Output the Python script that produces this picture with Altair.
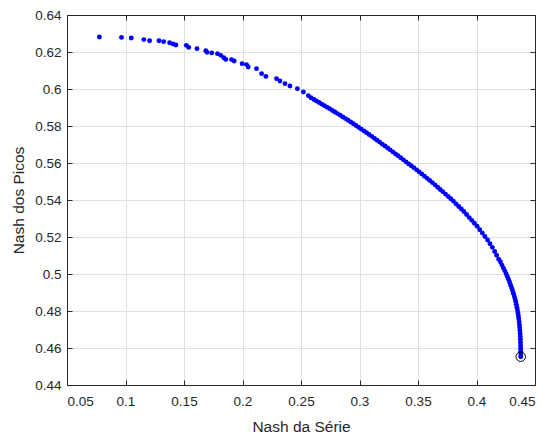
import altair as alt
import pandas as pd

# Sparse upper-left points (Nash da Série, Nash dos Picos)
sparse_x = [0.0777, 0.0966, 0.1049, 0.1157, 0.1206, 0.1286, 0.1326, 0.1377, 0.1406, 0.1431,
            0.1520, 0.1540, 0.1611, 0.1686, 0.1697, 0.1737, 0.1786, 0.1814, 0.1840, 0.1857,
            0.1906, 0.1929, 0.1997, 0.2034, 0.2049, 0.2120, 0.2163, 0.2200, 0.2291, 0.2320,
            0.2363, 0.2406, 0.2469, 0.2520, 0.2563]
sparse_y = [0.6281, 0.6279, 0.6276, 0.6267, 0.6261, 0.6261, 0.6256, 0.6250, 0.6243, 0.6238,
            0.6236, 0.6225, 0.6218, 0.6207, 0.6198, 0.6195, 0.6191, 0.6182, 0.6169, 0.6160,
            0.6159, 0.6151, 0.6137, 0.6132, 0.6119, 0.6110, 0.6083, 0.6068, 0.6056, 0.6043,
            0.6029, 0.6016, 0.6002, 0.5984, 0.5964]

# Dense middle section
mid_x = [0.2585, 0.2610, 0.2632, 0.2655, 0.2678, 0.2700, 0.2722, 0.2745, 0.2768, 0.2790,
         0.2812, 0.2835, 0.2858, 0.2880, 0.2902, 0.2925, 0.2948, 0.2970, 0.2992, 0.3015,
         0.3038, 0.3060, 0.3082, 0.3105, 0.3128, 0.3150, 0.3172, 0.3195, 0.3218, 0.3240,
         0.3262, 0.3285, 0.3308, 0.3330, 0.3352, 0.3375, 0.3398, 0.3420, 0.3442, 0.3465,
         0.3488, 0.3510, 0.3532, 0.3555, 0.3578, 0.3600, 0.3622, 0.3645, 0.3668, 0.3690,
         0.3712, 0.3735, 0.3758, 0.3780, 0.3802, 0.3825, 0.3848, 0.3870, 0.3892, 0.3915,
         0.3938, 0.3960, 0.3982, 0.4005, 0.4028, 0.4050, 0.4072, 0.4095, 0.4115, 0.4135,
         0.4155, 0.4172, 0.4190]
mid_y = [0.5953, 0.5943, 0.5935, 0.5927, 0.5918, 0.5910, 0.5902, 0.5893, 0.5884, 0.5876,
         0.5867, 0.5858, 0.5849, 0.5840, 0.5831, 0.5822, 0.5812, 0.5803, 0.5793, 0.5783,
         0.5773, 0.5764, 0.5754, 0.5744, 0.5733, 0.5723, 0.5713, 0.5702, 0.5692, 0.5681,
         0.5671, 0.5660, 0.5649, 0.5639, 0.5628, 0.5617, 0.5606, 0.5595, 0.5585, 0.5574,
         0.5563, 0.5552, 0.5541, 0.5529, 0.5517, 0.5506, 0.5494, 0.5482, 0.5469, 0.5457,
         0.5445, 0.5432, 0.5419, 0.5407, 0.5394, 0.5379, 0.5365, 0.5351, 0.5338, 0.5322,
         0.5305, 0.5290, 0.5274, 0.5258, 0.5239, 0.5221, 0.5203, 0.5184, 0.5164, 0.5144,
         0.5122, 0.5101, 0.5080]

# Steep lower-right section
steep_x = [0.4205, 0.4218, 0.4230, 0.4242, 0.4253, 0.4263, 0.4273, 0.4282, 0.4291, 0.4300,
           0.4308, 0.4315, 0.4322, 0.4329, 0.4335, 0.4340, 0.4345, 0.4350, 0.4354, 0.4358,
           0.4361, 0.4364, 0.4367, 0.4369, 0.4371, 0.4373, 0.4374, 0.4375, 0.4376, 0.4377,
           0.4377, 0.4378, 0.4378, 0.4378]
steep_y = [0.5065, 0.5048, 0.5032, 0.5017, 0.5002, 0.4987, 0.4972, 0.4957, 0.4941, 0.4926,
           0.4911, 0.4896, 0.4881, 0.4866, 0.4851, 0.4836, 0.4820, 0.4805, 0.4790, 0.4774,
           0.4758, 0.4742, 0.4726, 0.4710, 0.4694, 0.4678, 0.4662, 0.4646, 0.4630, 0.4614,
           0.4598, 0.4583, 0.4568, 0.4553]

# Highlighted (circled) solution
best_x = [0.4378]
best_y = [0.4553]

x_ticks = [0.05, 0.1, 0.15, 0.2, 0.25, 0.3, 0.35, 0.4, 0.45]
y_ticks = [0.44, 0.46, 0.48, 0.5, 0.52, 0.54, 0.56, 0.58, 0.6, 0.62, 0.64]

df = pd.DataFrame({"x": sparse_x + mid_x + steep_x, "y": sparse_y + mid_y + steep_y})
df_best = pd.DataFrame({"x": best_x, "y": best_y})

FONT = "Liberation Sans"
TXT = "#262626"
DOM = "#262626"
GRID = "#e0e0e0"

xscale = alt.Scale(domain=[0.05, 0.45], nice=False, zero=False)
yscale = alt.Scale(domain=[0.44, 0.64], nice=False, zero=False)
inward = alt.ExprRef(expr="-5")

pts = alt.Chart(df).mark_circle(size=24, color="#0000ff", opacity=1).encode(
    x=alt.X("x:Q", scale=xscale,
            axis=alt.Axis(values=x_ticks, format="~g", title="Nash da Série",
                          grid=True, gridColor=GRID, gridWidth=1,
                          domainColor=DOM, tickColor=DOM, tickSize=inward,
                          labelPadding=14, titlePadding=12, orient="bottom")),
    y=alt.Y("y:Q", scale=yscale,
            axis=alt.Axis(values=y_ticks, format="~g", title="Nash dos Picos",
                          grid=True, gridColor=GRID, gridWidth=1,
                          domainColor=DOM, tickColor=DOM, tickSize=inward,
                          labelPadding=11, titlePadding=8, orient="left")),
)

best = alt.Chart(df_best).mark_point(size=90, shape="circle", filled=False,
                                     color="black", strokeWidth=1, opacity=1).encode(
    x=alt.X("x:Q", scale=xscale,
            axis=alt.Axis(values=x_ticks, labels=False, title=None, grid=False,
                          domainColor=DOM, tickColor=DOM, tickSize=inward, orient="top")),
    y=alt.Y("y:Q", scale=yscale,
            axis=alt.Axis(values=y_ticks, labels=False, title=None, grid=False,
                          domainColor=DOM, tickColor=DOM, tickSize=inward, orient="right")),
)

chart = alt.layer(pts, best).resolve_axis(x="independent", y="independent").properties(
    width=468, height=370,
    autosize=alt.AutoSizeParams(type="none"),
    padding={"left": 67, "top": 15, "right": 17, "bottom": 52},
).configure_view(stroke=None).configure_axis(
    labelFont=FONT, titleFont=FONT, labelFontSize=13.5, titleFontSize=15.5,
    labelColor=TXT, titleColor=TXT, titleFontWeight="normal", domainWidth=1,
)

chart.save("out.html", embed_options={"renderer": "svg", "actions": False})
